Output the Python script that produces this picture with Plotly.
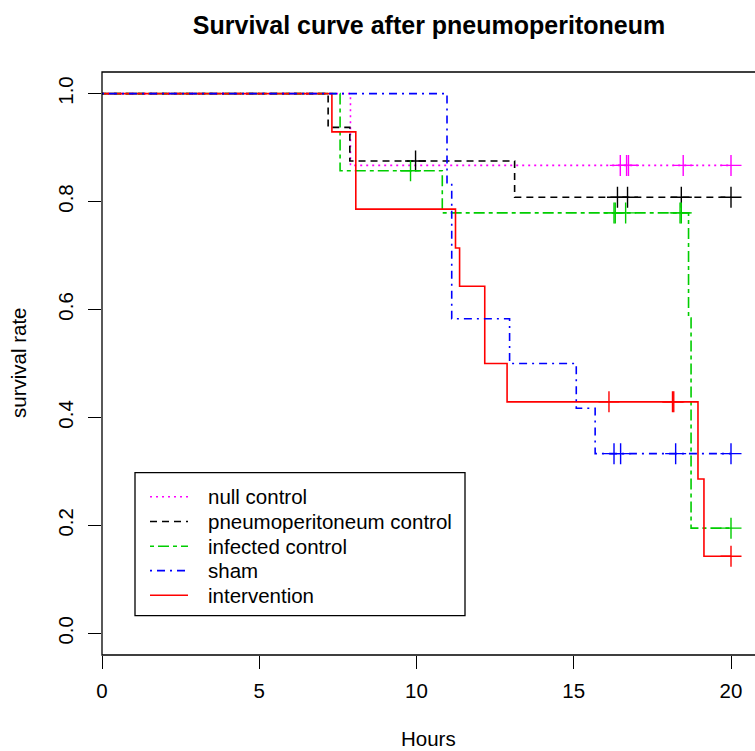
import plotly.graph_objects as go

# Kaplan-Meier step data per group: event times (hours) and survival after each event
groups = ["null control", "pneumoperitoneum control", "infected control", "sham", "intervention"]
colors = ["#FF00FF", "#000000", "#00CD00", "#0000FF", "#FF0000"]
dashes = ["2px,4px", "7px,5px", "4px,4px,11px,4px", "2px,5px,8px,5px", "solid"]

null_times = [7.90]
null_surv = [0.867]
null_cens = [16.48, 16.68, 16.74, 18.48, 20.0]

pneumo_times = [7.19, 7.88, 13.12]
pneumo_surv = [0.9375, 0.875, 0.808]
pneumo_cens = [9.97, 16.39, 16.71, 18.42, 20.0]

infected_times = [7.57, 10.82, 18.65, 18.73]
infected_surv = [0.857, 0.779, 0.584, 0.195]
infected_cens = [9.81, 16.28, 16.32, 16.65, 18.38, 18.42, 20.0]

sham_times = [10.97, 11.12, 12.96, 15.08, 15.68]
sham_surv = [0.833, 0.583, 0.500, 0.417, 0.333]
sham_cens = [16.28, 16.49, 18.24, 20.0]

interv_times = [7.31, 8.07, 11.24, 11.37, 12.17, 12.88, 18.95, 19.14]
interv_surv = [0.929, 0.786, 0.714, 0.643, 0.500, 0.429, 0.286, 0.143]
interv_cens = [16.12, 18.14, 18.18, 20.0]

follow_up_end = 20.0

x_ticks = [0, 5, 10, 15, 20]
y_ticks = [0.0, 0.2, 0.4, 0.6, 0.8, 1.0]
y_tick_text = ["0.0", "0.2", "0.4", "0.6", "0.8", "1.0"]

series = [
    (null_times, null_surv, null_cens),
    (pneumo_times, pneumo_surv, pneumo_cens),
    (infected_times, infected_surv, infected_cens),
    (sham_times, sham_surv, sham_cens),
    (interv_times, interv_surv, interv_cens),
]

FONT = "Liberation Sans, Arial, sans-serif"
W, H = 755, 751
L, T, B = 102, 72, 96
PX_PER_HOUR = 31.45
plot_w = W - L
plot_h = H - T - B


def surv_at(t, times, surv):
    s = 1.0
    for ti, si in zip(times, surv):
        if ti <= t:
            s = si
    return s


fig = go.Figure()
draw_order = [0, 1, 2, 4, 3]
for i in draw_order:
    times, surv, cens = series[i]
    xs = [0.0] + times + [follow_up_end]
    ys = [1.0] + surv + [surv[-1]]
    fig.add_trace(go.Scatter(
        x=xs, y=ys, mode="lines", line_shape="hv",
        line=dict(color=colors[i], width=1.6, dash=dashes[i]),
        name=groups[i], showlegend=False, hoverinfo="skip",
    ))
    fig.add_trace(go.Scatter(
        x=cens, y=[surv_at(t, times, surv) for t in cens], mode="markers",
        marker=dict(symbol="cross-thin", size=15, line=dict(color=colors[i], width=1.4)),
        showlegend=False, hoverinfo="skip",
    ))


def px_x(p):
    return (p - L) / plot_w


def px_y(p):
    return (H - B - p) / plot_h


shapes = [
    # plot frame
    dict(type="rect", xref="paper", yref="paper", x0=0, x1=1.02, y0=0, y1=1,
         line=dict(color="black", width=1.3)),
    # legend frame
    dict(type="rect", xref="paper", yref="paper", x0=px_x(135), x1=px_x(465),
         y0=px_y(615.7), y1=px_y(472.7), line=dict(color="black", width=1.3)),
]
annotations = []
row_y = [496.7, 521.5, 546.2, 570.6, 595.2]
for k, name in enumerate(groups):
    shapes.append(dict(type="line", xref="paper", yref="paper",
                       x0=px_x(150), x1=px_x(188), y0=px_y(row_y[k]), y1=px_y(row_y[k]),
                       line=dict(color=colors[k], width=1.6, dash=dashes[k])))
    annotations.append(dict(text=name, xref="paper", yref="paper", x=px_x(206), y=px_y(row_y[k]),
                            xanchor="left", yanchor="middle", showarrow=False,
                            font=dict(family=FONT, size=20.5, color="black")))

annotations.append(dict(text="Hours", xref="paper", yref="paper", x=px_x(429), y=px_y(738),
                        xanchor="center", yanchor="middle", showarrow=False,
                        font=dict(family=FONT, size=20.5, color="black")))
annotations.append(dict(text="survival rate", xref="paper", yref="paper", x=px_x(18), y=px_y(363),
                        xanchor="center", yanchor="middle", showarrow=False, textangle=-90,
                        font=dict(family=FONT, size=20.5, color="black")))

fig.update_layout(
    width=W, height=H,
    margin=dict(l=L, r=0, t=T, b=B, pad=0),
    paper_bgcolor="white", plot_bgcolor="white",
    title=dict(text="Survival curve after pneumoperitoneum", x=429 / W, xanchor="center",
               y=1 - 25 / H, yanchor="middle", xref="container", yref="container",
               font=dict(family=FONT, size=25, color="black", weight="bold")),
    xaxis=dict(range=[0, plot_w / PX_PER_HOUR], tickvals=x_ticks, ticks="outside", ticklen=13,
               tickwidth=1.3, tickcolor="black", showline=False, showgrid=False, zeroline=False,
               tickfont=dict(family=FONT, size=20.5, color="black"), ticklabelstandoff=4),
    yaxis=dict(range=[-0.04, 1.04], tickvals=y_ticks, ticktext=y_tick_text, tickangle=-90,
               ticks="outside", ticklen=13, tickwidth=1.3, tickcolor="black", showline=False,
               showgrid=False, zeroline=False,
               tickfont=dict(family=FONT, size=20.5, color="black"), ticklabelstandoff=7),
    shapes=shapes, annotations=annotations, showlegend=False,
)

fig.write_html("out.html")
